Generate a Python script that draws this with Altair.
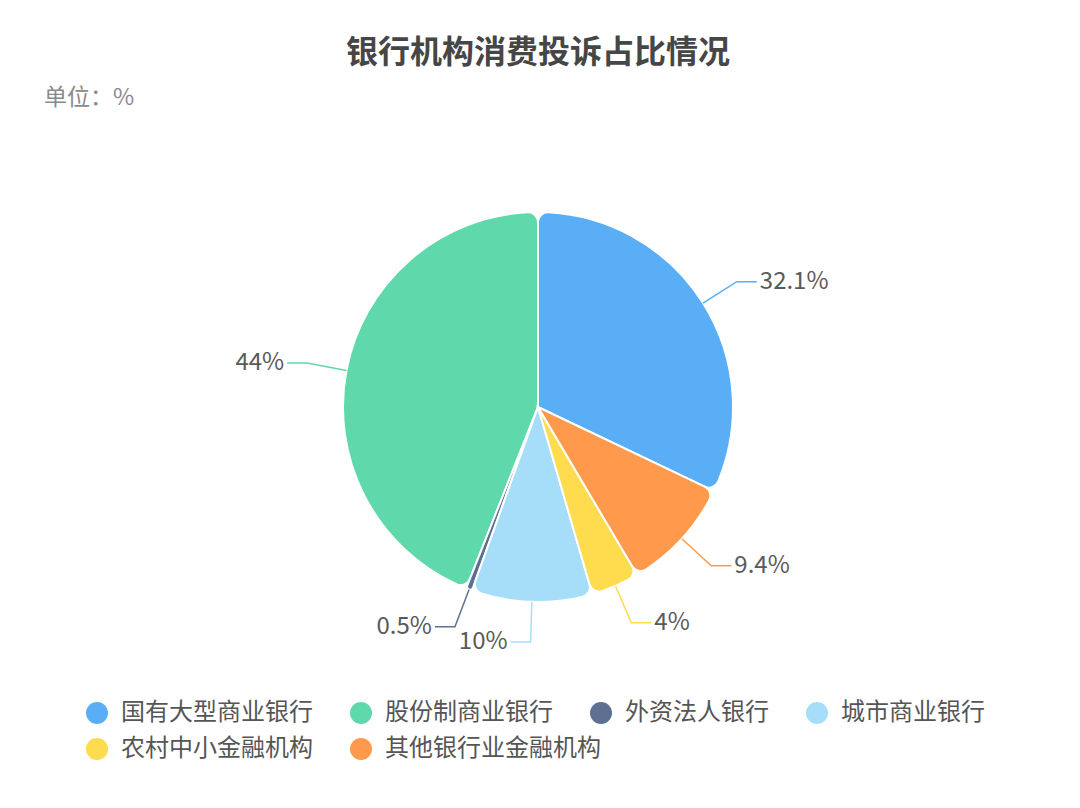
import altair as alt
import pandas as pd

# ---- data ----
categories = ["国有大型商业银行", "股份制商业银行", "外资法人银行", "城市商业银行", "农村中小金融机构", "其他银行业金融机构"]
values = [32.1, 44, 0.5, 10, 4, 9.4]
labels = ["32.1%", "44%", "0.5%", "10%", "4%", "9.4%"]
clockwise_order = [0, 5, 4, 3, 2, 1]
colors = ["#59AEF6", "#5FD9AB", "#5D7092", "#A6DEFA", "#FFDC4D", "#FF9A4D"]
legend_row1 = categories[:4]
legend_row2 = categories[4:]

title_text = "银行机构消费投诉占比情况"
unit_text = "单位：%"

FONT = "Noto Sans CJK SC"
W, H = 1064, 792
CX, CY = 530, 399
R, R2, HSEG = 195, 235, 20

df = pd.DataFrame({"cat": categories, "value": values, "label": labels, "ord": clockwise_order})


def legend(vals, y):
    return alt.Legend(
        title=None,
        values=vals,
        orient="none",
        legendX=77,
        legendY=y,
        direction="horizontal",
        columnPadding=36,
        symbolType="circle",
        symbolSize=484,
        symbolStrokeWidth=0,
        symbolOpacity=1,
        labelFont=FONT,
        labelFontSize=24,
        labelColor="#555555",
        labelOffset=12,
        labelLimit=400,
        padding=0,
    )


xs = alt.Scale(domain=[0, W], nice=False, zero=False)
ys = alt.Scale(domain=[0, H], nice=False, zero=False, reverse=True)

base = alt.Chart(df)

arcs = base.mark_arc(outerRadius=R, cornerRadius=10, stroke="white", strokeWidth=2).encode(
    theta=alt.Theta("value:Q", stack=True),
    order=alt.Order("ord:Q"),
    color=alt.Color("cat:N", scale=alt.Scale(domain=categories, range=colors), legend=legend(legend_row1, 693)),
    x=alt.value(CX),
    y=alt.value(CY),
)

# second legend row (no marks drawn, only the legend of the fill scale)
ghost = base.transform_filter("false").mark_arc(outerRadius=R).encode(
    theta=alt.Theta("value:Q", stack=True),
    fill=alt.Fill("cat:N", scale=alt.Scale(domain=legend_row2, range=colors[4:]), legend=legend(legend_row2, 729)),
    x=alt.value(CX),
    y=alt.value(CY),
)

geo = (
    base.transform_joinaggregate(total="sum(value)")
    .transform_window(cum="sum(value)", sort=[alt.SortField("ord")], frame=[None, 0])
    .transform_calculate(a="(datum.cum - datum.value / 2) / datum.total * 2 * PI")
    .transform_calculate(side="sin(datum.a) >= 0 ? 1 : -1")
)

lines = (
    geo.transform_calculate(ks="[0, 1, 2]")
    .transform_flatten(["ks"])
    .transform_calculate(rr=f"datum.ks == 0 ? {R} : {R2}")
    .transform_calculate(
        px=f"{CX} + datum.rr * sin(datum.a) + (datum.ks == 2 ? datum.side * {HSEG} : 0)",
        py=f"{CY} - datum.rr * cos(datum.a)",
    )
    .mark_line(strokeWidth=1.5)
    .encode(
        x=alt.X("px:Q", scale=xs, axis=None),
        y=alt.Y("py:Q", scale=ys, axis=None),
        detail="cat:N",
        order="ks:Q",
        color=alt.Color("cat:N", legend=None),
    )
)

lab = geo.transform_calculate(
    tx=f"{CX} + {R2} * sin(datum.a) + datum.side * ({HSEG} + 3)",
    ty=f"{CY} - {R2} * cos(datum.a)",
)
text_kw = dict(font=FONT, fontSize=24, color="#5a5a5a", baseline="middle")
lab_right = lab.transform_filter("datum.side > 0").mark_text(align="left", **text_kw).encode(
    x=alt.X("tx:Q", scale=xs, axis=None), y=alt.Y("ty:Q", scale=ys, axis=None), text="label:N"
)
lab_left = lab.transform_filter("datum.side < 0").mark_text(align="right", **text_kw).encode(
    x=alt.X("tx:Q", scale=xs, axis=None), y=alt.Y("ty:Q", scale=ys, axis=None), text="label:N"
)

title = alt.Chart(pd.DataFrame({"t": [title_text]})).mark_text(
    font=FONT, fontSize=32, fontWeight="bold", color="#464646", align="center", baseline="middle"
).encode(text="t:N", x=alt.value(CX), y=alt.value(45))

unit = alt.Chart(pd.DataFrame({"t": [unit_text]})).mark_text(
    font=FONT, fontSize=23, color="#8a8a8a", align="left", baseline="middle"
).encode(text="t:N", x=alt.value(36), y=alt.value(90))

chart = (
    alt.layer(arcs, ghost, lines, lab_right, lab_left, title, unit)
    .properties(width=W, height=H, autosize=alt.AutoSizeParams(type="none"), padding=0)
    .configure_view(strokeWidth=0)
)

chart.save("out.html", embed_options={"renderer": "svg", "actions": False})
